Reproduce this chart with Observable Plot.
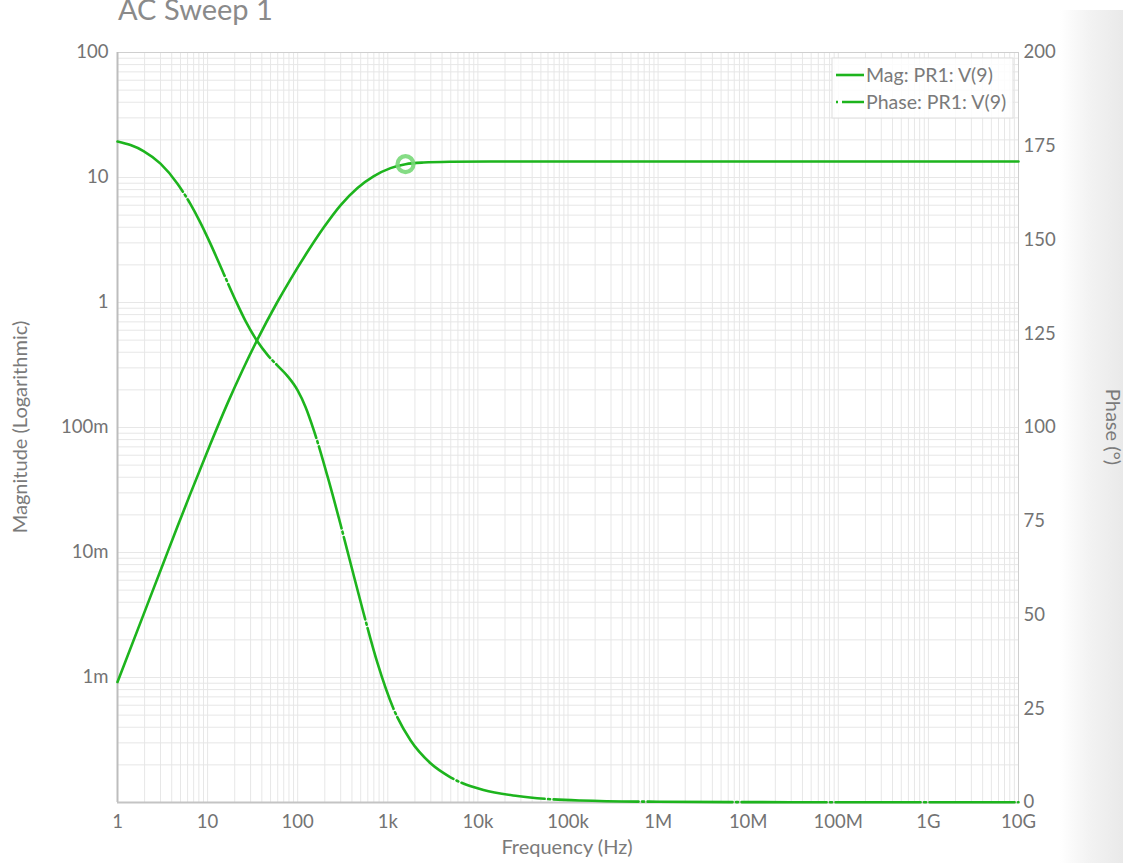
<!DOCTYPE html>
<html>
<head>
<meta charset="utf-8">
<script src="https://cdn.jsdelivr.net/npm/d3@7"></script>
<script src="https://cdn.jsdelivr.net/npm/@observablehq/plot@0.6"></script>
<style>
  html, body { margin: 0; padding: 0; background: #fff; overflow: hidden; }
  #wrap { position: relative; width: 1123px; height: 863px; font-family: Lato, "Open Sans", sans-serif; }
  #band { position: absolute; left: 1060px; top: 10px; width: 63px; height: 853px;
          background: linear-gradient(to right, rgba(240,240,240,0) 0%, #f3f3f3 45%, #ececec 85%, #e9e9e9 100%); }
  #chart { position: absolute; left: 0; top: 0; }
</style>
</head>
<body>
<div id="wrap"><div id="band"></div><div id="chart"></div></div>
<script>
// ---- data ----
const magFreq = [1, 1.944, 3.24, 4.63, 6.46, 10.77, 16.63, 24.4, 35.8, 58.2, 83.2, 128.5, 193.4, 298.5, 461, 694, 1072, 1572, 2490, 4966, 13800, 1e5, 1e6, 1e7, 1e8, 1e9, 1e10];
const magValue = [0.00092, 0.003186, 0.008289, 0.01612, 0.02971, 0.07408, 0.1559, 0.2873, 0.5068, 0.9817, 1.533, 2.544, 3.959, 5.993, 8.256, 10.22, 11.89, 12.78, 13.18, 13.36, 13.43, 13.43, 13.43, 13.43, 13.43, 13.43, 13.43];

const phaseFreq = [1, 1.394, 1.944, 3.0, 4.63, 6.46, 8.34, 10.77, 15.0, 20.4, 26.3, 35.8, 46.2, 59.7, 77.1, 99.5, 122.1, 149.8, 214, 298.5, 385, 537, 769, 1157, 1786, 2979, 4966, 11530, 27520, 59200, 137700, 1e6, 1e7, 1e8, 1e9, 1e10];
const phaseValue = [176.27, 175.31, 173.73, 170.35, 165.01, 159.55, 154.56, 148.96, 141.15, 133.95, 128.43, 122.91, 119.36, 116.51, 113.71, 109.97, 105.49, 99.52, 87.01, 74.19, 63.92, 50.59, 37.15, 24.99, 16.59, 10.45, 6.72, 3.33, 1.73, 0.93, 0.53, 0.2, 0.1, 0.06, 0.05, 0.05];

const markerFreq = [1572];
const markerMag = [12.78];

const xTicks = [1, 10, 100, 1e3, 1e4, 1e5, 1e6, 1e7, 1e8, 1e9, 1e10];
const xTickLabels = ["1", "10", "100", "1k", "10k", "100k", "1M", "10M", "100M", "1G", "10G"];
const magTicks = [100, 10, 1, 0.1, 0.01, 0.001];
const magTickLabels = ["100", "10", "1", "100m", "10m", "1m"];
const phaseTicks = [0, 25, 50, 75, 100, 125, 150, 175, 200];

const seriesNames = ["Mag: PR1: V(9)", "Phase: PR1: V(9)"];
const lineColor = "#1db41d";

// ---- scales: phase shares the log-magnitude y position (0..200 deg <-> 1e-4..1e2) ----
const magDomain = [1e-4, 100];
const phaseDomain = [0, 200];
const L0 = Math.log10(magDomain[0]), L1 = Math.log10(magDomain[1]);
const phaseToY = p => Math.pow(10, L0 + (p - phaseDomain[0]) / (phaseDomain[1] - phaseDomain[0]) * (L1 - L0));

const magData = magFreq.map((f, i) => ({f, v: magValue[i]}));
const phaseData = phaseFreq.map((f, i) => ({f, v: phaseToY(phaseValue[i])}));
const markerData = markerFreq.map((f, i) => ({f, v: markerMag[i]}));
const phaseTickData = phaseTicks.map(p => ({f: 1e10, v: phaseToY(p), label: String(p)}));

// log grid positions
const xGrid = [];
for (let e = 0; e < 10; e++) for (let k = 1; k < 10; k++) xGrid.push(k * Math.pow(10, e));
xGrid.push(1e10);
const yGrid = [];
for (let e = -4; e < 2; e++) for (let k = 1; k < 10; k++) yGrid.push(k * Math.pow(10, e));
yGrid.push(100);

const xLab = d => xTickLabels[xTicks.findIndex(t => Math.abs(Math.log10(t) - Math.log10(d)) < 1e-6)];
const yLab = d => magTickLabels[magTicks.findIndex(t => Math.abs(Math.log10(t) - Math.log10(d)) < 1e-6)];

const tickFont = 18.5;
const plot = Plot.plot({
  width: 1123,
  height: 863,
  marginLeft: 117,
  marginRight: 105,
  marginTop: 52,
  marginBottom: 61,
  style: {fontFamily: "Lato, 'Open Sans', sans-serif", fontSize: tickFont + "px", color: "#737373", background: "transparent"},
  x: {type: "log", domain: [1, 1e10]},
  y: {type: "log", domain: magDomain},
  marks: [
    Plot.ruleX(xGrid, {stroke: "#e7e7e7", strokeWidth: 1}),
    Plot.ruleY(yGrid, {stroke: "#e7e7e7", strokeWidth: 1}),
    Plot.frame({stroke: "#cfcfcf", strokeWidth: 1}),
    Plot.axisX({ticks: xTicks, tickFormat: xLab, tickSize: 0, tickPadding: 12, label: null}),
    Plot.axisY({ticks: magTicks, tickFormat: yLab, tickSize: 0, tickPadding: 9, label: null, anchor: "left"}),
    Plot.text(phaseTickData, {x: "f", y: "v", text: "label", textAnchor: "start", dx: 5, fill: "#737373", fontSize: tickFont}),
    Plot.ruleX([1], {stroke: "#bdbdbd", strokeWidth: 2}),
    Plot.ruleY([1e-4], {stroke: "#c4c4c4", strokeWidth: 2}),
    Plot.line(phaseData, {x: "f", y: "v", stroke: lineColor, strokeWidth: 2.6, curve: "monotone-x", strokeDasharray: "85,3.5,2,3.5"}),
    Plot.line(magData, {x: "f", y: "v", stroke: lineColor, strokeWidth: 2.6, curve: "monotone-x"}),
    Plot.dot(markerData, {x: "f", y: "v", r: 8, stroke: "#78d878", strokeOpacity: 0.9, strokeWidth: 4.2, fill: "none"})
  ]
});

document.getElementById("chart").appendChild(plot);

// ---- titles and legend ----
const svg = d3.select(plot);
const g = svg.append("g").attr("font-family", "Lato, 'Open Sans', sans-serif").attr("text-anchor", "start");
g.append("text").attr("x", 118).attr("y", 20).attr("font-size", 29).attr("fill", "#8a8a8a").attr("text-anchor", "start").text("AC Sweep 1");
g.append("text").attr("transform", "translate(27,427) rotate(-90)").attr("text-anchor", "middle")
  .attr("font-size", 20).attr("fill", "#7a7a7a").text("Magnitude (Logarithmic)");
g.append("text").attr("x", 567).attr("y", 854).attr("text-anchor", "middle")
  .attr("font-size", 20).attr("fill", "#7a7a7a").text("Frequency (Hz)");
g.append("text").attr("transform", "translate(1106,427) rotate(90)").attr("text-anchor", "middle")
  .attr("font-size", 20).attr("fill", "#7a7a7a").text("Phase (°)");

const lg = g.append("g");
lg.append("rect").attr("x", 832).attr("y", 58).attr("width", 181).attr("height", 60)
  .attr("fill", "#fff").attr("fill-opacity", 0.85).attr("stroke", "#dedede");
lg.append("line").attr("x1", 836).attr("x2", 864).attr("y1", 75).attr("y2", 75).attr("stroke", lineColor).attr("stroke-width", 2.6);
lg.append("line").attr("x1", 836).attr("x2", 864).attr("y1", 102).attr("y2", 102).attr("stroke", lineColor).attr("stroke-width", 2.6).attr("stroke-dasharray", "2,4,30");
lg.append("text").attr("x", 866).attr("y", 82).attr("font-size", 19.5).attr("fill", "#7a7a7a").attr("text-anchor", "start").text(seriesNames[0]);
lg.append("text").attr("x", 866).attr("y", 109).attr("font-size", 19.5).attr("fill", "#7a7a7a").attr("text-anchor", "start").text(seriesNames[1]);
</script>
</body>
</html>
